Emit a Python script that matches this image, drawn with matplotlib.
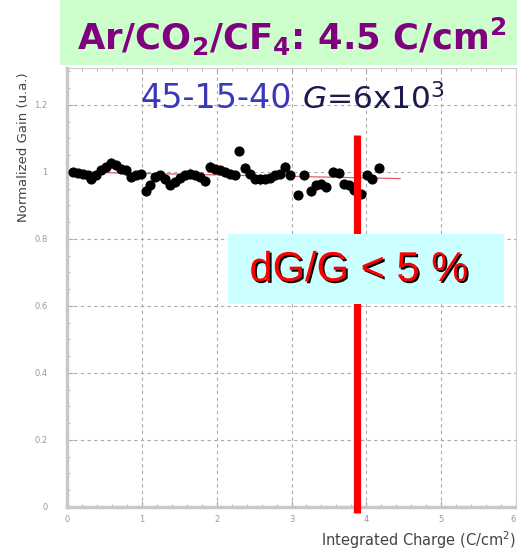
import matplotlib
matplotlib.use("Agg")
import matplotlib.pyplot as plt
import matplotlib.patheffects as pe
from matplotlib.patches import Rectangle
from matplotlib.ticker import MultipleLocator

# integrated charge (C/cm^2) and normalized gain
charge = [0.075, 0.142, 0.208, 0.274, 0.319, 0.385, 0.452, 0.518, 0.584, 0.651,
          0.717, 0.783, 0.850, 0.916, 0.983, 1.049, 1.115, 1.182, 1.248, 1.315,
          1.381, 1.447, 1.514, 1.580, 1.647, 1.713, 1.779, 1.846, 1.912, 1.978,
          2.045, 2.111, 2.178, 2.244, 2.297, 2.377, 2.443, 2.510, 2.576, 2.642,
          2.709, 2.775, 2.841, 2.908, 2.974, 3.085, 3.173, 3.262, 3.328, 3.395,
          3.461, 3.550, 3.638, 3.705, 3.771, 3.837, 3.926, 4.014, 4.081, 4.169]
gain = [1.000, 0.998, 0.995, 0.990, 0.978, 0.990, 1.005, 1.015, 1.028, 1.020,
        1.010, 1.005, 0.985, 0.990, 0.995, 0.942, 0.960, 0.985, 0.990, 0.978,
        0.962, 0.970, 0.982, 0.990, 0.995, 0.992, 0.985, 0.972, 1.015, 1.010,
        1.005, 1.000, 0.995, 0.990, 1.062, 1.012, 0.995, 0.980, 0.978, 0.980,
        0.982, 0.990, 0.995, 1.015, 0.990, 0.930, 0.990, 0.942, 0.960, 0.965,
        0.955, 1.000, 0.998, 0.965, 0.960, 0.945, 0.935, 0.990, 0.980, 1.012]
gain_err = [0.012, 0.010, 0.012, 0.014, 0.012, 0.010, 0.012, 0.014, 0.012, 0.010,
            0.012, 0.014, 0.012, 0.010, 0.012, 0.014, 0.012, 0.010, 0.012, 0.014,
            0.012, 0.010, 0.012, 0.014, 0.016, 0.010, 0.012, 0.014, 0.016, 0.010,
            0.012, 0.014, 0.012, 0.010, 0.012, 0.014, 0.012, 0.010, 0.016, 0.014,
            0.012, 0.010, 0.012, 0.014, 0.012, 0.010, 0.012, 0.014, 0.012, 0.010,
            0.012, 0.014, 0.012, 0.010, 0.012, 0.014, 0.012, 0.010, 0.012, 0.014]

fit_x = [0.0, 4.45]
fit_y = [1.0, 0.98]

total_charge = 3.88
x_ticks = [0, 1, 2, 3, 4, 5, 6]
x_tick_labels = ["0", "1", "2", "3", "4", "5", "6"]
y_ticks = [0, 0.2, 0.4, 0.6, 0.8, 1.0, 1.2]
y_tick_labels = ["0", "0.2", "0.4", "0.6", "0.8", "1", "1.2"]

W, H = 517, 550
fig = plt.figure(figsize=(W / 100, H / 100), dpi=100)
fig.patch.set_facecolor("white")


def fx(px):
    return px / W


def fy(py):
    return 1 - py / H


ax = fig.add_axes([fx(67), fy(507), fx(516) - fx(67), fy(68) - fy(507)])
ax.set_xlim(0, 6)
ax.set_ylim(0, 1.31)

ax.set_xticks(x_ticks)
ax.set_xticklabels(x_tick_labels)
ax.set_yticks(y_ticks)
ax.set_yticklabels(y_tick_labels)
ax.get_xticklabels()[-1].set_horizontalalignment("right")
ax.xaxis.set_minor_locator(MultipleLocator(0.2))
ax.yaxis.set_minor_locator(MultipleLocator(0.05))
ax.tick_params(which="both", direction="in", colors="#aaaaaa", labelcolor="#999999",
               labelsize=6, top=True, right=False)
ax.tick_params(which="major", length=4)
ax.tick_params(which="minor", length=2)
ax.tick_params(axis="y", pad=14)
ax.tick_params(axis="x", pad=6)
ax.grid(True, which="major", color="#aaaaaa", linestyle=(0, (3, 3)), linewidth=0.8)
ax.set_axisbelow(True)
for side in ["left", "bottom"]:
    ax.spines[side].set_color("#c8c8c8")
    ax.spines[side].set_linewidth(2.5)
for side in ["top", "right"]:
    ax.spines[side].set_color("#cccccc")
    ax.spines[side].set_linewidth(0.8)

ax.plot(fit_x, fit_y, color="#e06060", linewidth=0.9, zorder=2)
ax.errorbar(charge, gain, yerr=gain_err, fmt="o", color="black", ms=6.3,
            ecolor="#777777", elinewidth=0.8, capsize=0, zorder=3)

# marker for the total accumulated charge
ax.plot([total_charge, total_charge], [-0.018, 1.11], color="#ff0000",
        linewidth=5.2, solid_capstyle="butt", clip_on=False, zorder=4)

fig.text(fx(24), fy(147), "Normalized Gain (u.a.)", rotation=90, ha="center",
         va="center", fontsize=9.5, color="#444444")
fig.text(fx(516), fy(540), "Integrated Charge (C/cm$^2$)", ha="right",
         va="center", fontsize=10.5, color="#444444")

# header box
fig.add_artist(Rectangle((fx(60), fy(65)), fx(517) - fx(60), fy(0) - fy(65),
                         transform=fig.transFigure, facecolor="#ccffcc",
                         edgecolor="none", zorder=1))
fig.text(fx(292), fy(37), "Ar/CO$_\\mathbf{2}$/CF$_\\mathbf{4}$: 4.5 C/cm$^\\mathbf{2}$",
         ha="center", va="center", fontsize=25.5, fontweight="bold",
         color="#800080", zorder=2)

fig.text(fx(292), fy(99), "45-15-40", ha="right", va="center", fontsize=24,
         color="#3a3ab8", zorder=2)
fig.text(fx(302), fy(99), "$G$=6x10$^3$", ha="left", va="center", fontsize=22.5,
         color="#1a1a4d", zorder=2)

# stability box, drawn above the red marker
ax.add_patch(Rectangle((fx(228), fy(304)), fx(504) - fx(228), fy(234) - fy(304),
                       transform=fig.transFigure, facecolor="#ccffff",
                       edgecolor="none", clip_on=False, zorder=10))
ax.text(fx(359), fy(270), "dG/G < 5 %", ha="center", va="center", fontsize=30,
        family="Liberation Sans", color="#ff0000", zorder=11,
        transform=fig.transFigure,
        path_effects=[pe.withSimplePatchShadow(offset=(1.3, -1.3),
                                               shadow_rgbFace="black", alpha=1.0)])

fig.savefig("out.png", dpi=100)
